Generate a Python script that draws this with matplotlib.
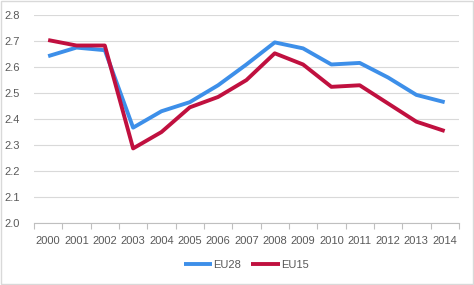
import numpy as np
import matplotlib.pyplot as plt
from matplotlib.patches import Rectangle

years = [str(y) for y in range(2000, 2015)]
eu28 = [2.642, 2.675, 2.665, 2.367, 2.43, 2.465, 2.53, 2.61, 2.695, 2.672, 2.61, 2.616, 2.56, 2.493, 2.465]
eu15 = [2.704, 2.683, 2.683, 2.287, 2.35, 2.445, 2.485, 2.55, 2.653, 2.61, 2.524, 2.53, 2.46, 2.39, 2.354]

plt.rcParams['font.family'] = ['Liberation Sans', 'DejaVu Sans']

fig = plt.figure(figsize=(4.74, 2.85), dpi=100)
ax = fig.add_axes([0.0717, 0.2175, 0.8963, 0.7295])

x = np.arange(len(years))
ax.plot(x, eu28, color='#3d8fe9', lw=2.8, label='EU28', solid_capstyle='butt')
ax.plot(x, eu15, color='#c0103f', lw=2.8, label='EU15', solid_capstyle='butt')

ax.set_xlim(-0.5, len(years) - 0.5)
ax.set_ylim(2.0, 2.8)
ax.set_yticks(np.arange(2.0, 2.81, 0.1))
ax.set_yticklabels([f"{v:.1f}" for v in np.arange(2.0, 2.81, 0.1)])
ax.set_xticks(x)
ax.set_xticklabels(years)
ax.set_xticks(np.arange(-0.5, len(years), 1), minor=True)
ax.tick_params(axis='x', which='major', length=0, pad=9, labelsize=8, labelcolor='#595959')
ax.tick_params(axis='x', which='minor', length=4, color='#bfbfbf', width=0.8)
ax.tick_params(axis='y', length=0, pad=10, labelsize=8, labelcolor='#595959')

ax.grid(axis='y', color='#d9d9d9', lw=0.8)
ax.set_axisbelow(True)
for s in ['top', 'right', 'left']:
    ax.spines[s].set_visible(False)
ax.spines['bottom'].set_color('#bfbfbf')
ax.spines['bottom'].set_linewidth(0.8)

ax.legend(loc='center', bbox_to_anchor=(0.5, -0.2), ncol=2, frameon=False,
          fontsize=8, labelcolor='#595959', handlelength=2.6, handletextpad=0.1,
          columnspacing=0.9)

fig.patches.append(Rectangle((0.002, 0.003), 0.995, 0.994, transform=fig.transFigure,
                             fill=False, edgecolor='#d9d9d9', lw=1))

fig.savefig('out.png', dpi=100)
